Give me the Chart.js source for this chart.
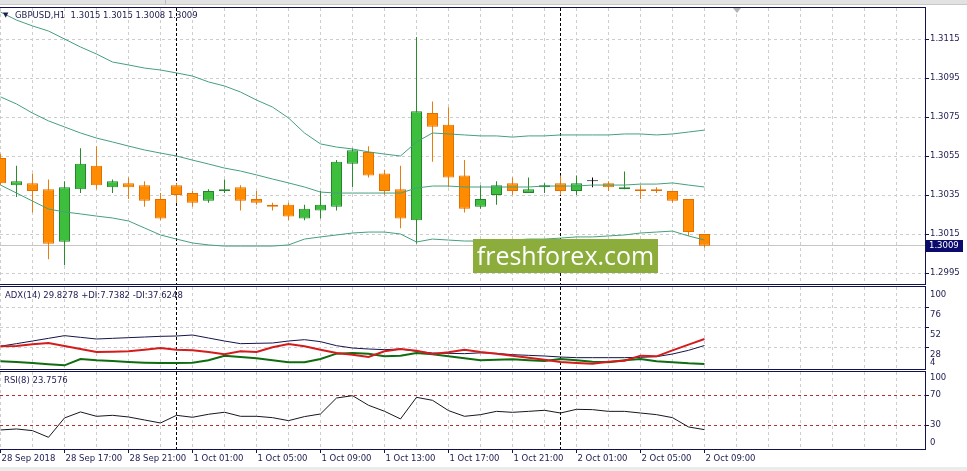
<!DOCTYPE html>
<html>
<head>
<meta charset="utf-8">
<script src="https://cdn.jsdelivr.net/npm/chart.js@4.4.1/dist/chart.umd.min.js"></script>
<style>
body{margin:0;width:967px;height:471px;position:relative;overflow:hidden;background:#fff;font-family:'DejaVu Sans',sans-serif}
canvas{position:absolute;left:0}
.hdr{position:absolute;font-size:8.5px;line-height:10px;color:#1c1c50;white-space:pre}
#chrome{position:absolute;left:0;top:0;width:967px;height:4px;background:#e2e2e2;border-bottom:1px solid #c8c8c8}
#chrome i{position:absolute;left:165px;top:0;width:1px;height:4px;background:#bdbdbd}
#shift{position:absolute;left:733px;top:8px;width:0;height:0;border-left:4px solid transparent;border-right:4px solid transparent;border-top:5px solid #b4b4b4}
#wm{position:absolute;left:473px;top:239px;width:185px;height:34px;background:#8cad3c;color:#fff;font:25px 'Open Sans',sans-serif;line-height:33px;text-align:center}
#foot{position:absolute;left:0;top:467px;width:967px;height:4px;background:#ececec}
</style>
</head>
<body>
<div id="chrome"><i></i></div>
<canvas id="cMain" width="967" height="286" style="top:0"></canvas>
<canvas id="cAdx" width="967" height="86" style="top:285px"></canvas>
<canvas id="cRsi" width="967" height="100" style="top:371px"></canvas>
<div id="shift"></div>
<div class="hdr" style="left:3px;top:10px;font-size:7px">▼</div>
<div class="hdr" style="left:15px;top:10px">GBPUSD,H1  1.3015 1.3015 1.3008 1.3009</div>
<div class="hdr" style="left:5px;top:290px">ADX(14) 29.8278 +DI:7.7382 -DI:37.6248</div>
<div class="hdr" style="left:4px;top:375px">RSI(8) 23.7576</div>
<div id="wm">freshforex.com</div>
<div id="foot"></div>
<script>
// hourly bars, 28 Sep 13:00 .. 2 Oct 09:00
const timeLabels = ['28 Sep 2018','28 Sep 17:00','28 Sep 21:00','1 Oct 01:00','1 Oct 05:00','1 Oct 09:00',
  '1 Oct 13:00','1 Oct 17:00','1 Oct 21:00','2 Oct 01:00','2 Oct 05:00','2 Oct 09:00'];
const opens  = [1.3054,1.3040,1.3041,1.3038,1.3011,1.3038,1.3050,1.3039,1.3041,1.3040,1.3033,1.3040,1.3036,1.3032,1.3037,
  1.3039,1.3033,1.3030,1.3030,1.3023,1.3027,1.3029,1.3051,1.3057,1.3046,1.3038,1.3022,1.3077,1.3071,1.3045,
  1.3029,1.3035,1.3041,1.3036,1.3039,1.3041,1.3037,1.3042,1.3041,1.3038,1.3038,1.3038,1.3037,1.3033,1.3015];
const highs  = [1.3056,1.3050,1.3046,1.3043,1.3042,1.3059,1.3060,1.3043,1.3044,1.3042,1.3036,1.3041,1.3037,1.3038,1.3043,
  1.3040,1.3037,1.3031,1.3031,1.3030,1.3037,1.3053,1.3059,1.3060,1.3048,1.3050,1.3116,1.3083,1.3080,1.3053,
  1.3040,1.3042,1.3044,1.3044,1.3041,1.3045,1.3045,1.3044,1.3042,1.3047,1.3040,1.3039,1.3037,1.3033,1.3015];
const lows   = [1.3040,1.3034,1.3026,1.3002,1.2999,1.3036,1.3038,1.3036,1.3033,1.3029,1.3022,1.3031,1.3029,1.3031,1.3036,
  1.3027,1.3030,1.3027,1.3022,1.3022,1.3023,1.3027,1.3039,1.3044,1.3035,1.3018,1.3010,1.3052,1.3039,1.3026,
  1.3028,1.3030,1.3035,1.3036,1.3036,1.3035,1.3035,1.3039,1.3037,1.3038,1.3033,1.3036,1.3031,1.3014,1.3008];
const closes = [1.3041,1.3042,1.3037,1.3010,1.3039,1.3051,1.3040,1.3042,1.3039,1.3032,1.3023,1.3035,1.3031,1.3037,1.3038,
  1.3032,1.3031,1.3029,1.3024,1.3028,1.3030,1.3052,1.3058,1.3045,1.3037,1.3023,1.3078,1.3070,1.3044,1.3028,
  1.3033,1.3040,1.3037,1.3038,1.3040,1.3037,1.3041,1.3042,1.3039,1.3039,1.3037,1.3037,1.3032,1.3016,1.3009];

const bbUpper  = [1.31288,1.31247,1.31217,1.31191,1.31150,1.31109,1.31073,1.31032,1.31017,1.31001,1.30991,1.30976,1.30960,1.30930,1.30909,
  1.30878,1.30837,1.30801,1.30745,1.30668,1.30612,1.30596,1.30586,1.30571,1.30560,1.30550,1.30622,1.30668,1.30663,1.30658,
  1.30653,1.30653,1.30647,1.30653,1.30653,1.30658,1.30658,1.30658,1.30658,1.30663,1.30663,1.30658,1.30663,1.30673,1.30683];
const bbMiddle = [1.30853,1.30817,1.30770,1.30730,1.30699,1.30668,1.30642,1.30622,1.30601,1.30581,1.30565,1.30550,1.30529,1.30509,1.30488,
  1.30473,1.30453,1.30432,1.30412,1.30391,1.30365,1.30360,1.30360,1.30360,1.30360,1.30360,1.30386,1.30396,1.30396,1.30391,
  1.30391,1.30391,1.30391,1.30391,1.30396,1.30396,1.30396,1.30401,1.30401,1.30401,1.30406,1.30406,1.30412,1.30401,1.30391];
const bbLower  = [1.30401,1.30360,1.30319,1.30278,1.30263,1.30253,1.30242,1.30232,1.30217,1.30181,1.30145,1.30124,1.30104,1.30094,1.30088,
  1.30088,1.30088,1.30088,1.30094,1.30124,1.30135,1.30145,1.30155,1.30160,1.30160,1.30150,1.30109,1.30124,1.30119,1.30114,
  1.30114,1.30119,1.30119,1.30124,1.30124,1.30129,1.30135,1.30135,1.30140,1.30145,1.30155,1.30160,1.30165,1.30140,1.30119];

const adx     = [29,32,35.2,38.4,41.6,39.6,37.6,38.4,39.2,40,40.8,41.2,42.4,38.8,35.2,32,32.4,32.8,35.2,36.8,34.4,29.6,26.8,25.6,24.8,
  25.6,22.8,20.8,20.4,20,21,20.4,18.8,18,17.2,16,15.2,15.2,15.2,15.2,15.6,16.4,19.6,24,29.8];
const plusDI  = [10.8,10,8.8,7.2,6,13.6,12,11.2,10,9.2,8.8,8.8,9.2,12,17.6,16,14.4,12,9.6,9.6,13.6,20,20.8,20,16.8,
  17.6,20.8,19.2,16.8,14.4,12,12.8,13.2,12,11.2,13.6,12,10.4,9.6,12,13.6,10.8,9.6,8.4,7.7];
const minusDI = [28.8,29.2,31.2,32.8,29.2,25.6,22,22.4,22.8,24.8,26.8,24.8,24,22,19.2,22.8,22,27.6,31.6,28.8,24.8,20.8,18.8,16,22.8,
  25.6,23.6,19.6,21.6,24.8,22,20,17.6,15.2,12.8,10,8.8,8,10.4,11.6,17.6,16.8,24,30.8,37.6];
const rsi     = [23.4,24.7,22.5,13.6,39.4,47.4,41.6,42.9,40.7,36.7,32.7,42.9,40.3,44.3,47,41.6,41.6,39.8,35.8,41.2,44.7,66,69.1,56.3,48.3,
  38.1,66.9,62.9,49.2,41.6,43.8,48.2,46.9,48.2,49.6,46,50.9,50.5,48.2,48.2,46,43.8,39.8,27.4,23.8];

const priceTicks = [1.2995,1.3015,1.3035,1.3055,1.3075,1.3095,1.3115];
const adxLevels = [100,76,52,28,4];
const rsiLevels = [100,70,30,0];
const separatorBars = [11,35];

const FRAME = '#12124e', TXT = '#1c1c50', GRID = '#cdcdcd', BB = '#45a07c';
const X_MIN = -1/32, X_MAX = X_MIN + 925/16;
const last = closes.length - 1;

Chart.defaults.font.family = "'DejaVu Sans', sans-serif";
Chart.defaults.font.size = 8.5;
Chart.defaults.color = TXT;

const frame = {
  id:'frame',
  afterDraw(chart){
    const {ctx, chartArea:a} = chart;
    ctx.save(); ctx.strokeStyle = FRAME; ctx.lineWidth = 1;
    ctx.strokeRect(a.left - 0.5, a.top - 0.5, a.right - a.left + 1, a.bottom - a.top + 1);
    ctx.restore();
  }
};
const separators = {
  id:'separators',
  beforeDatasetsDraw(chart){
    const {ctx, chartArea:a, scales} = chart;
    ctx.save(); ctx.strokeStyle = '#000'; ctx.lineWidth = 1; ctx.setLineDash([3,2]);
    separatorBars.forEach(b=>{
      const x = Math.floor(scales.x.getPixelForValue(b)) + 0.5;
      ctx.beginPath(); ctx.moveTo(x, a.top); ctx.lineTo(x, a.bottom); ctx.stroke();
    });
    ctx.restore();
  }
};
const sideLabels = {
  id:'sideLabels',
  afterDraw(chart, args, opts){
    if(!opts.values) return;
    const {ctx, chartArea:a, scales} = chart;
    ctx.save(); ctx.fillStyle = TXT; ctx.font = "8.5px 'DejaVu Sans'"; ctx.textBaseline = 'middle';
    opts.values.forEach(v=>{
      let y = scales.y.getPixelForValue(v) + (opts.shift||0);
      y = Math.min(Math.max(y, a.top + 6), a.bottom - 6);
      ctx.fillText(String(v), a.right + 5, y);
    });
    ctx.restore();
  }
};
const priceTag = {
  id:'priceTag',
  beforeDatasetsDraw(chart){
    const {ctx, chartArea:a, scales} = chart;
    const y = Math.floor(scales.y.getPixelForValue(closes[last])) + 0.5;
    ctx.save(); ctx.strokeStyle = '#c6c6c6'; ctx.beginPath(); ctx.moveTo(a.left, y); ctx.lineTo(a.right, y); ctx.stroke(); ctx.restore();
  },
  afterDraw(chart){
    const {ctx, chartArea:a, scales} = chart;
    const y = Math.round(scales.y.getPixelForValue(closes[last]));
    ctx.save(); ctx.fillStyle = '#0b0b6e'; ctx.fillRect(a.right + 1, y - 6, 37, 12);
    ctx.fillStyle = '#fff'; ctx.font = "8.5px 'DejaVu Sans'"; ctx.textBaseline = 'middle';
    ctx.fillText(closes[last].toFixed(4), a.right + 4, y);
    ctx.restore();
  }
};

function xScale(showLabels){
  return {
    type:'linear', min:X_MIN, max:X_MAX, offset:false,
    afterBuildTicks: s => { s.ticks = []; for(let v = 0; v <= X_MAX; v += 2) s.ticks.push({value:v}); },
    afterFit: s => { s.paddingLeft = 0; s.paddingRight = 0; if(showLabels) s.height = 22; },
    grid:{ color:GRID, offset:false, drawTicks:showLabels, tickLength:4,
      tickColor: c => (c.tick && c.tick.value % 4 === 0 && c.tick.value / 4 < timeLabels.length) ? FRAME : 'rgba(0,0,0,0)' },
    border:{ display:false, dash:[3,3] },
    ticks:{ display:showLabels, autoSkip:false, maxRotation:0, align:'start', labelOffset:1, padding:1, color:TXT,
      callback: v => v % 4 === 0 ? (timeLabels[v/4] || '') : '' }
  };
}
function yScale(min, max, ticks, gridColor, showLabels){
  return {
    position:'right', min, max,
    afterBuildTicks: s => { s.ticks = ticks.map(v => ({value:v})); },
    afterFit: s => { s.width = 42; s.paddingTop = 0; s.paddingBottom = 0; },
    grid:{ color:gridColor, tickLength:4, tickColor:FRAME },
    border:{ display:false, dash:[3,3] },
    ticks:{ display:showLabels, padding:1, color:TXT, callback: v => v.toFixed(4) }
  };
}
function line(values, color, width){
  return { type:'line', data: values.map((v,i)=>({x:i, y:v})), borderColor:color, borderWidth:width||1,
    pointRadius:0, tension:0, fill:false };
}
const base = pad => ({
  responsive:false, animation:false, events:[],
  layout:{ padding:{ left:0, right:0, top:pad[0], bottom:pad[1] }, autoPadding:false },
});

const dir = opens.map((o,i)=> closes[i] > o ? 1 : closes[i] < o ? -1 : 0);
const pick = (d, up, down, flat) => d > 0 ? up : d < 0 ? down : flat;

new Chart(document.getElementById('cMain'), {
  type:'bar',
  data:{ datasets:[
    line(bbUpper, BB), line(bbMiddle, BB), line(bbLower, BB),
    { type:'bar', data: opens.map((o,i)=>({x:i, y:[o, closes[i]]})),
      backgroundColor: dir.map(d=>pick(d,'#3dbf3d','#ff8c00','#000')),
      borderColor: dir.map(d=>pick(d,'#24862c','#e27000','#000')),
      borderWidth:1, borderSkipped:false, inflateAmount:0, grouped:false,
      barPercentage:1, categoryPercentage:1, maxBarThickness:11, minBarLength:1 },
    { type:'bar', data: lows.map((l,i)=>({x:i, y:[l, highs[i]]})),
      backgroundColor: dir.map(d=>pick(d,'#2b8a2b','#e97c0c','#000')),
      borderWidth:0, inflateAmount:0, grouped:false,
      barPercentage:1, categoryPercentage:1, maxBarThickness:1 }
  ]},
  options:{ ...base([8,2]),
    plugins:{ legend:{display:false}, tooltip:{enabled:false} },
    scales:{ x: xScale(false), y: yScale(1.298936, 1.313090, priceTicks, GRID, true) } },
  plugins:[frame, separators, priceTag]
});

new Chart(document.getElementById('cAdx'), {
  type:'line',
  data:{ datasets:[ line(minusDI,'#d41c1c',2), line(plusDI,'#106c10',2), line(adx,'#14144a',1) ] },
  options:{ ...base([2,2]),
    plugins:{ legend:{display:false}, tooltip:{enabled:false}, sideLabels:{ values:adxLevels, shift:8 } },
    scales:{ x: xScale(false), y: yScale(1.6, 100, adxLevels.slice(1,-1), GRID, false) } },
  plugins:[frame, separators, sideLabels]
});

new Chart(document.getElementById('cRsi'), {
  type:'line',
  data:{ datasets:[ line(rsi,'#161620',1) ] },
  options:{ ...base([1,0]),
    plugins:{ legend:{display:false}, tooltip:{enabled:false}, sideLabels:{ values:rsiLevels, shift:0 } },
    scales:{ x: xScale(true), y: yScale(-2, 100.67, rsiLevels.slice(1,-1), '#b4302c', false) } },
  plugins:[frame, separators, sideLabels]
});
</script>
</body>
</html>
